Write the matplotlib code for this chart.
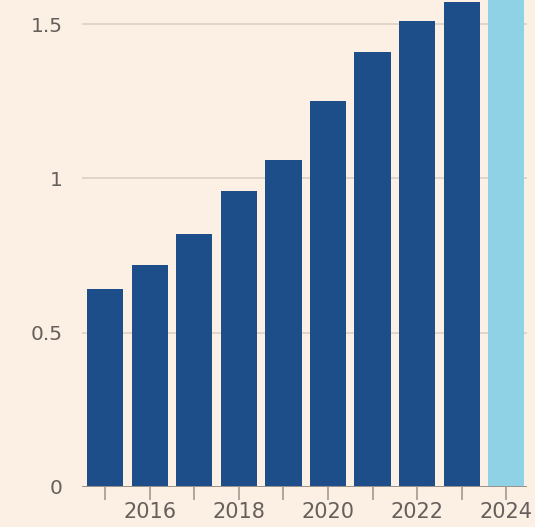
import matplotlib
matplotlib.use("Agg")
import matplotlib.pyplot as plt

# yearly totals, last year is the estimate/forecast bar
years = [2015, 2016, 2017, 2018, 2019, 2020, 2021, 2022, 2023, 2024]
values = [0.64, 0.72, 0.82, 0.96, 1.06, 1.25, 1.41, 1.51, 1.57, 1.66]
is_estimate = [False] * 9 + [True]
label_years = [2016, 2018, 2020, 2022, 2024]
y_ticks = [0, 0.5, 1, 1.5]
y_tick_labels = ["0", "0.5", "1", "1.5"]

BG = "#fcefe3"
DARK = "#1d4e8a"
LIGHT = "#8fd1e5"
GRID = "#dccfc4"
TEXT = "#66605c"

plt.rcParams["font.family"] = ["DejaVu Sans"]

fig = plt.figure(figsize=(5.35, 5.27), dpi=100, facecolor=BG)
ax = fig.add_axes([0.153, 0.076, 0.832, 0.924], facecolor=BG)

colors = [LIGHT if est else DARK for est in is_estimate]
ax.bar(years, values, width=0.81, color=colors, zorder=3)

ax.set_xlim(2014.47, 2024.47)
ax.set_ylim(0, 1.578)

ax.set_yticks(y_ticks)
ax.set_yticklabels(y_tick_labels)
ax.set_xticks(years)
ax.set_xticklabels([str(y) if y in label_years else "" for y in years])

ax.grid(axis="y", color=GRID, linewidth=1.2, zorder=1)
ax.axhline(0, color="#9c928a", linewidth=1.4, zorder=4)

for s in ax.spines.values():
    s.set_visible(False)

ax.tick_params(axis="y", length=0, pad=14, labelsize=14.5, labelcolor=TEXT)
ax.tick_params(axis="x", length=9, width=1.3, color="#aaa098", pad=1.5,
               labelsize=15, labelcolor=TEXT)

fig.savefig("out.png", dpi=100, facecolor=BG)
